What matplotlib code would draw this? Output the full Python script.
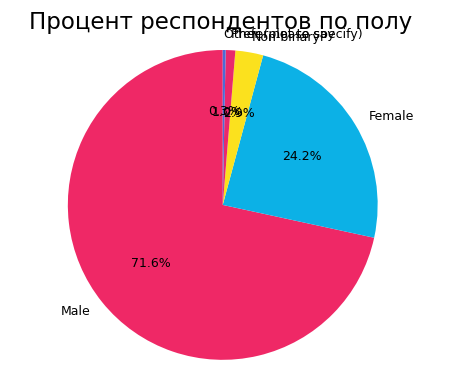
import matplotlib
matplotlib.use('Agg')
import matplotlib.pyplot as plt

labels = ['Male', 'Female', 'Non-binary', 'Prefer not to say', 'Other (please specify)']
values = [71.6, 24.2, 2.9, 1.0, 0.3]
colors = ['#EF2866', '#0CB1E6', '#FBE11E', '#E9286C', '#4D6BD6']

fig = plt.figure(figsize=(4.5, 3.76), dpi=100)
ax = fig.add_axes([0.0, -0.06, 0.99, 1.03])
ax.pie(values, labels=labels, colors=colors, autopct='%1.1f%%', startangle=90,
       textprops={'fontsize': 9})
ax.set_aspect('equal')
fig.text(0.49, 0.94, 'Процент респондентов по полу', fontsize=16.5,
         ha='center', va='center')
fig.savefig('out.png')
